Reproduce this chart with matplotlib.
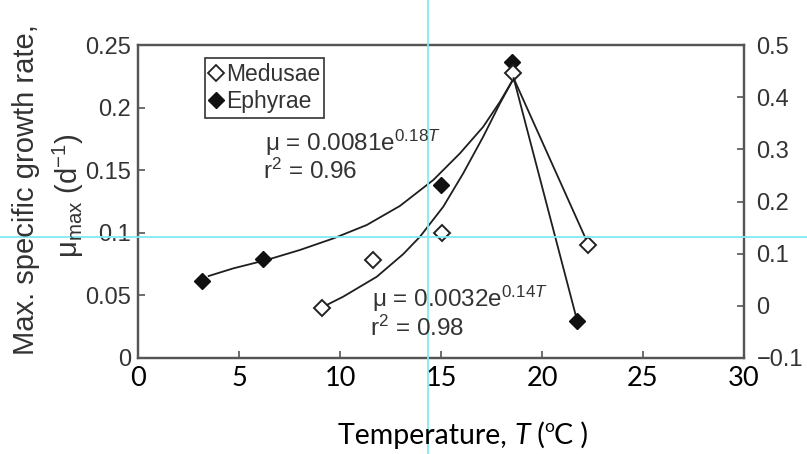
import numpy as np
import matplotlib
matplotlib.use("Agg")
import matplotlib.pyplot as plt
from matplotlib.lines import Line2D

# 数据
temp_eph = [3.15, 6.17, 15.0, 18.5]
mu_eph = [0.0618, 0.0791, 0.138, 0.2367]
temp_med = [9.09, 11.65, 15.03, 18.55]
mu_med = [0.0397, 0.0783, 0.0996, 0.2279]

# 拟合曲线（沿曲线读取的点）
eph_fit_t = [3.5, 4.72, 6.37, 8.02, 9.67, 11.32, 12.97, 14.62, 15.94, 17.09, 17.92, 18.6]
eph_fit_mu = [0.0655, 0.0716, 0.0783, 0.0863, 0.0955, 0.1062, 0.1215, 0.1422, 0.1635, 0.1847, 0.2047, 0.2234]
med_fit_t = [9.3, 10.16, 11.82, 13.13, 13.96, 15.11, 16.1, 17.09, 17.92, 18.6]
med_fit_mu = [0.042, 0.049, 0.0649, 0.083, 0.0969, 0.1208, 0.1475, 0.1768, 0.2034, 0.2234]

# 下降段（右轴）
eph_drop_t = [18.6, 21.75]
eph_drop_mu = [0.436, -0.030]
med_drop_t = [18.6, 22.3]
med_drop_mu = [0.436, 0.117]

left_ticks = [0, 0.05, 0.1, 0.15, 0.2, 0.25]
left_labels = ["0", "0.05", "0.1", "0.15", "0.2", "0.25"]
right_ticks = [-0.1, 0, 0.1, 0.2, 0.3, 0.4, 0.5]
right_labels = ["\u22120.1", "0", "0.1", "0.2", "0.3", "0.4", "0.5"]
x_ticks = [0, 5, 10, 15, 20, 25, 30]

plt.rcParams["mathtext.fontset"] = "custom"
plt.rcParams["mathtext.rm"] = "Liberation Sans"
plt.rcParams["mathtext.it"] = "Liberation Sans:italic"
plt.rcParams["mathtext.bf"] = "Liberation Sans:bold"
plt.rcParams["font.family"] = ["Liberation Sans", "DejaVu Sans"]

W, H = 807, 454
txt_c = "#333333"
line_c = "#1e1e1e"
spine_c = "#555555"

fig = plt.figure(figsize=(W / 100, H / 100), dpi=100)
ax = fig.add_axes([138 / W, 1 - 358 / H, (744 - 138) / W, (358 - 45) / H])
ax2 = ax.twinx()

ax.set_xlim(0, 30)
ax.set_ylim(0, 0.25)
ax2.set_ylim(-0.1, 0.5)

# 拟合曲线
ax.plot(eph_fit_t, eph_fit_mu, color=line_c, lw=1.3, solid_joinstyle="round")
ax.plot(med_fit_t, med_fit_mu, color=line_c, lw=1.3, solid_joinstyle="round")
ax2.plot(eph_drop_t, eph_drop_mu, color=line_c, lw=1.3)
ax2.plot(med_drop_t, med_drop_mu, color=line_c, lw=1.3)

# 数据点
ax.plot(temp_eph, mu_eph, "D", ms=8.5, mfc="#111111", mec="#111111", mew=1.0)
ax.plot(temp_med, mu_med, "D", ms=8.5, mfc="white", mec="#222222", mew=1.4)
ax2.plot(eph_drop_t[1:], eph_drop_mu[1:], "D", ms=8.5, mfc="#111111", mec="#111111", mew=1.0)
ax2.plot(med_drop_t[1:], med_drop_mu[1:], "D", ms=8.5, mfc="white", mec="#222222", mew=1.4)

for a in (ax, ax2):
    for s in a.spines.values():
        s.set_color(spine_c)
        s.set_linewidth(1.6)

ax.set_xticks(x_ticks)
ax.set_xticklabels([str(v) for v in x_ticks], fontfamily="Lato", fontsize=19.5, color="black")
ax.set_yticks(left_ticks)
ax.set_yticklabels(left_labels, fontsize=17, color=txt_c)
ax2.set_yticks(right_ticks)
ax2.set_yticklabels(right_labels, fontsize=17, color=txt_c)
ax.tick_params(axis="both", direction="in", length=5, width=1.2, color=spine_c)
ax.tick_params(axis="x", pad=6)
ax.tick_params(axis="y", pad=5)
ax2.tick_params(axis="y", direction="in", length=5, width=1.2, color=spine_c, pad=9)

# 图例
handles = [
    Line2D([], [], ls="none", marker="D", ms=8, mfc="white", mec="#222222", mew=1.3),
    Line2D([], [], ls="none", marker="D", ms=8, mfc="#111111", mec="#111111"),
]
leg = ax.legend(handles, ["Medusae", "Ephyrae"], loc="upper left",
                bbox_to_anchor=(205 / W, 1 - 58 / H), bbox_transform=fig.transFigure,
                borderaxespad=0, fancybox=False, edgecolor="#333333", framealpha=1,
                borderpad=0.2, handlelength=0.6, handletextpad=0.1, labelspacing=0.2,
                prop={"family": "Liberation Sans", "size": 16.5})
leg.get_frame().set_linewidth(1.2)
for t in leg.get_texts():
    t.set_color(txt_c)

# 方程文本
fs = 17.5
fig.text(265 / W, 1 - 151 / H, r"μ = 0.0081e$^{0.18\mathit{T}}$", fontsize=fs, color=txt_c, va="baseline")
fig.text(263 / W, 1 - 179 / H, r"r$^{2}$ = 0.96", fontsize=fs, color=txt_c, va="baseline")
fig.text(372 / W, 1 - 307 / H, r"μ = 0.0032e$^{0.14\mathit{T}}$", fontsize=fs, color=txt_c, va="baseline")
fig.text(370 / W, 1 - 336 / H, r"r$^{2}$ = 0.98", fontsize=fs, color=txt_c, va="baseline")

# y 轴标题
fig.text(26 / W, 1 - 190 / H, "Max. specific growth rate,", rotation=90, fontsize=21,
         color=txt_c, ha="center", va="center")
fig.text(68 / W, 1 - 196 / H, r"μ$_{\rm max}$ (d$^{-1}$)", rotation=90, fontsize=21,
         color=txt_c, ha="center", va="center")

# x 轴标题（分段拼接）
t1 = fig.text(338 / W, 1 - 449 / H, "Temperature, ", fontfamily="Lato", fontsize=20.5, color="black", va="bottom")
t2 = ax.annotate("T", xy=(1, 0), xycoords=t1, ha="left", va="bottom", fontfamily="Lato",
                 fontstyle="italic", fontsize=20.5, color="black", annotation_clip=False)
t3 = ax.annotate(" (", xy=(1, 0), xycoords=t2, ha="left", va="bottom", fontfamily="Lato",
                 fontsize=20.5, color="black", annotation_clip=False)
t4 = ax.annotate("o", xy=(1, 1), xycoords=t3, ha="left", va="top", fontfamily="Lato",
                 fontsize=12.5, color="black", annotation_clip=False, xytext=(0, 2),
                 textcoords="offset points")
ax.annotate("C )", xy=(1, 0), xycoords=(t4, t3), ha="left", va="bottom", fontfamily="Lato",
            fontsize=20.5, color="black", annotation_clip=False)

# 截图中的十字线
cyan = "#80eaf0"
fig.add_artist(Line2D([428 / W, 428 / W], [0, 1], transform=fig.transFigure, color=cyan, lw=1.3))
fig.add_artist(Line2D([0, 1], [1 - 237 / H, 1 - 237 / H], transform=fig.transFigure, color=cyan, lw=1.3))

fig.savefig("out.png", dpi=100)
